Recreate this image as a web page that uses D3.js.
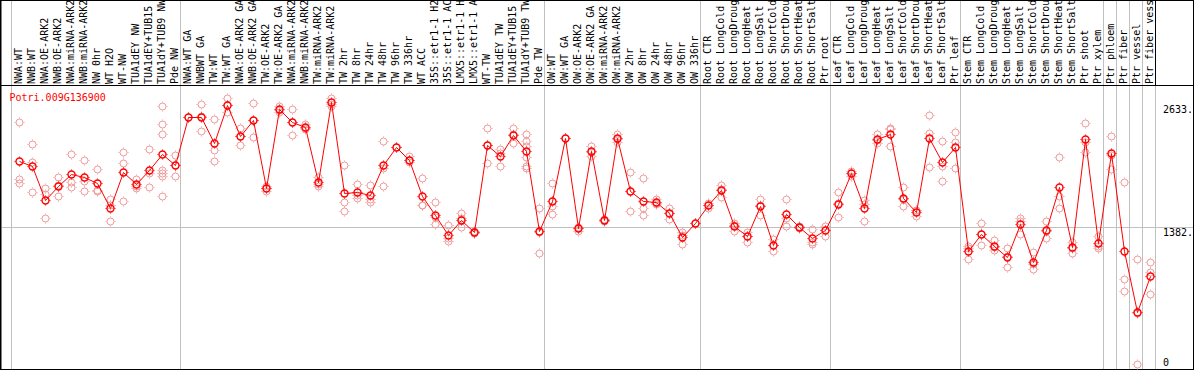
<!DOCTYPE html>
<html>
<head>
<meta charset="utf-8">
<script src="https://cdn.jsdelivr.net/npm/d3@7"></script>
<style>
  html, body { margin: 0; padding: 0; background: #fff; overflow: hidden; }
  text { font-family: "DejaVu Sans Mono", monospace; font-size: 10px; }
</style>
</head>
<body>
<div id="chart"></div>
<script>
const gene = "Potri.009G136900";

const samples = [
  "NWA:WT", "NWB:WT", "NWA:OE-ARK2", "NWB:OE-ARK2", "NWA:miRNA-ARK2", "NWB:miRNA-ARK2",
  "NW 0hr", "WT H2O", "WT-NW", "TUA1dEY NW", "TUA1dEY+TUB15 NW", "TUA1dY+TUB9 NW", "Pde NW",
  "NWA:WT GA", "NWBWT GA", "TW:WT", "TW:WT GA", "NWA:OE-ARK2 GA", "NWB:OE-ARK2 GA",
  "TW:OE-ARK2", "TW:OE-ARK2 GA", "NWA:miRNA-ARK2 GA", "NWB:miRNA-ARK2 GA", "TW:miRNA-ARK2",
  "TW:miRNA-ARK2 GA", "TW 2hr", "TW 8hr", "TW 24hr", "TW 48hr", "TW 96hr", "TW 336hr", "WT ACC",
  "35S::etr1-1 H2O", "35S::etr1-1 ACC", "LMX5::etr1-1 H2O", "LMX5::etr1-1 ACC", "WT-TW",
  "TUA1dEY TW", "TUA1dEY+TUB15 TW", "TUA1dY+TUB9 TW", "Pde TW",
  "OW:WT", "OW:WT GA", "OW:OE-ARK2", "OW:OE-ARK2 GA", "OW:miRNA-ARK2", "OW:miRNA-ARK2 GA",
  "OW 2hr", "OW 8hr", "OW 24hr", "OW 48hr", "OW 96hr", "OW 336hr",
  "Root CTR", "Root LongCold", "Root LongDrought", "Root LongHeat", "Root LongSalt",
  "Root ShortCold", "Root ShortDrought", "Root ShortHeat", "Root ShortSalt", "Ptr root",
  "Leaf CTR", "Leaf LongCold", "Leaf LongDrought", "Leaf LongHeat", "Leaf LongSalt",
  "Leaf ShortCold", "Leaf ShortDrought", "Leaf ShortHeat", "Leaf ShortSalt", "Ptr leaf",
  "Stem CTR", "Stem LongCold", "Stem LongDrought", "Stem LongHeat", "Stem LongSalt",
  "Stem ShortCold", "Stem ShortDrought", "Stem ShortHeat", "Stem ShortSalt", "Ptr shoot",
  "Ptr xylem", "Ptr phloem", "Ptr fiber", "Ptr vessel", "Ptr fiber vessel"
];

// mean expression per sample
const means = [
  2048, 2001, 1654, 1796, 1917, 1890, 1826, 1573, 1937, 1816, 1964, 2119, 2008,
  2493, 2493, 2230, 2614, 2301, 2466, 1779, 2574, 2443, 2396, 1836, 2645, 1725, 1735, 1705,
  2008, 2190, 2065, 1695, 1509, 1307, 1459, 1338, 2210, 2102, 2311, 2150, 1341,
  1648, 2281, 1371, 2150, 1452, 2281, 1745, 1651, 1637, 1523, 1284, 1422,
  1604, 1755, 1392, 1290, 1594, 1203, 1513, 1385, 1270, 1351,
  1614, 1927, 1573, 2271, 2321, 1681, 1536, 2281, 2038, 2190,
  1142, 1311, 1196, 1082, 1412, 1034, 1351, 1786, 1179, 2271, 1220,
  2129, 1142, 522, 886
];

// replicate values per sample
const reps = [
  [2443, 1867, 1833], [2220, 2045, 1742], [1776, 1715, 1472], [1887, 1695, 1809],
  [2119, 1843, 1789], [2059, 1850, 1745], [1968, 1762, 1749], [1668, 1607, 1442],
  [2139, 2028, 1644], [1873, 1779, 1796], [2170, 1931, 1786],
  [2604, 2422, 2321, 1961, 1927, 1904, 1695], [2112, 1897, 2011],
  [2493], [2625, 2352, 2503], [2473, 2163, 2049], [2685, 2544, 2614], [2382, 2217, 2305],
  [2635, 2298, 2466], [1803, 1779, 1749], [2611, 2544, 2567], [2574, 2311, 2443],
  [2426, 2372, 2389], [1894, 1799, 1816], [2692, 2611, 2631], [2011, 1634, 1543],
  [1819, 1681, 1708], [1809, 1664, 1641], [2251, 1978, 1796], [2190], [2102, 2038, 2059],
  [1877, 1604, 1607], [1634, 1412, 1489], [1405, 1270, 1247], [1530, 1381, 1472],
  [1348, 1338, 1328], [2382, 2035, 2210], [2170, 1998, 2136], [2382, 2230, 2321],
  [2328, 2254, 2207, 2089, 2001, 1978], [1573, 1119, 1331],
  [1826, 1597, 1520], [2281], [1388, 1371, 1348], [2200, 2102, 2146], [1462, 1452, 1442],
  [2321, 2247, 2274], [1944, 1543, 1749], [1877, 1580, 1509], [1664, 1621, 1631],
  [1577, 1469, 1523], [1331, 1216, 1304], [1422],
  [1624, 1580, 1607], [1809, 1691, 1765], [1429, 1344, 1402], [1338, 1237, 1297],
  [1668, 1509, 1604], [1260, 1142, 1206], [1664, 1395, 1479], [1398, 1385, 1371],
  [1361, 1216, 1237], [1398, 1297, 1358],
  [1735, 1482, 1624], [1951, 1904, 1927], [1658, 1445, 1617], [2321, 2230, 2261],
  [2382, 2207, 2375], [1786, 1594, 1664], [1553, 1499, 1557], [2513, 2331, 1991],
  [2251, 2005, 1853], [2342, 2240, 1978],
  [1196, 1058, 1169], [1422, 1200, 1311], [1253, 1152, 1183], [1169, 977, 1095],
  [1472, 1314, 1445], [1129, 964, 1011], [1442, 1270, 1341], [2089, 1695, 1573],
  [1237, 1125, 1176], [2433, 2240, 2139], [1294, 1176, 1189],
  [2301, 1971, 2116], [1843, 856, 735], [1058, 520, 0], [1028, 934, 704]
];

// column boundaries where gray separators are drawn
const breaks = [0, 13, 41, 53, 63, 73, 84, 85, 86, 87, 88];
const yTicks = [0, 1382, 2633];
const yTickLabels = ["0", "1382.", "2633."];

const W = 1194, H = 370;
const headerY = 85.5;

const svg = d3.select("#chart").append("svg")
  .attr("width", W)
  .attr("height", H);

// Scales
const x = d3.scaleBand()
  .domain(d3.range(samples.length))
  .range([11, 11 + 13 * samples.length])
  .padding(0);
const y = d3.scaleLinear()
  .domain([0, 2633])
  .range([364, 103.5]);

const cx = i => x(i) + 8.5;
const cy = v => Math.round(y(v)) + 0.5;

// Separators
svg.selectAll("line.sep")
  .data(breaks)
  .join("line")
  .attr("class", "sep")
  .attr("x1", k => 11 + 13 * k + 0.5)
  .attr("x2", k => 11 + 13 * k + 0.5)
  .attr("y1", 0)
  .attr("y2", H)
  .attr("stroke", "#c0c0c0");

// Mid gridline (1382)
svg.append("line")
  .attr("x1", 2).attr("x2", W - 1)
  .attr("y1", cy(1382)).attr("y2", cy(1382))
  .attr("stroke", "#c0c0c0");

// Frame
svg.append("line").attr("x1", 0).attr("x2", W).attr("y1", headerY).attr("y2", headerY).attr("stroke", "#000");
svg.append("line").attr("x1", 1155.5).attr("x2", 1155.5).attr("y1", 0).attr("y2", headerY).attr("stroke", "#000");
svg.append("rect")
  .attr("x", 1).attr("y", 0.5)
  .attr("width", W - 1.5).attr("height", H - 1)
  .attr("fill", "none")
  .attr("stroke", "#000");
svg.append("line").attr("x1", 0.5).attr("x2", 0.5).attr("y1", 0).attr("y2", H).attr("stroke", "#000");

// Sample labels (rotated)
svg.selectAll("text.lab")
  .data(samples)
  .join("text")
  .attr("class", "lab")
  .attr("transform", (d, i) => `translate(${x(i) + 11},84) rotate(-90)`)
  .attr("fill", "#000")
  .text(d => d);

// Right-side value labels
svg.selectAll("text.ytick")
  .data(yTicks)
  .join("text")
  .attr("class", "ytick")
  .attr("x", 1163)
  .attr("y", (d, i) => i === 0 ? 366 : cy(d) + 8)
  .attr("fill", "#000")
  .text((d, i) => yTickLabels[i]);

// Gene id
svg.append("text")
  .attr("x", 9.5)
  .attr("y", 101)
  .attr("fill", "#ff0000")
  .text(gene);

// marker: circle with small ticks
function marker(g, color, sw) {
  g.append("circle").attr("r", 3.5).attr("fill", "none").attr("stroke", color).attr("stroke-width", sw);
  g.append("path")
    .attr("d", "M0,-5V-4M0,4V5M-5,0H-4M4,0H5")
    .attr("stroke", color)
    .attr("stroke-width", 1);
}

// Replicates
const repData = reps.flatMap((arr, i) => arr.map(v => ({i, v})));
svg.selectAll("g.rep")
  .data(repData)
  .join("g")
  .attr("class", "rep")
  .attr("transform", d => `translate(${cx(d.i)},${cy(d.v)})`)
  .each(function() { marker(d3.select(this), "#ee9a9a", 1); });

// Mean line
svg.append("path")
  .datum(means)
  .attr("fill", "none")
  .attr("stroke", "#ff0000")
  .attr("stroke-width", 1)
  .attr("d", d3.line().x((d, i) => cx(i)).y(d => cy(d)));

// Means
svg.selectAll("g.mean")
  .data(means)
  .join("g")
  .attr("class", "mean")
  .attr("transform", (d, i) => `translate(${cx(i)},${cy(d)})`)
  .each(function() { marker(d3.select(this), "#ff0000", 1.4); });
</script>
</body>
</html>
